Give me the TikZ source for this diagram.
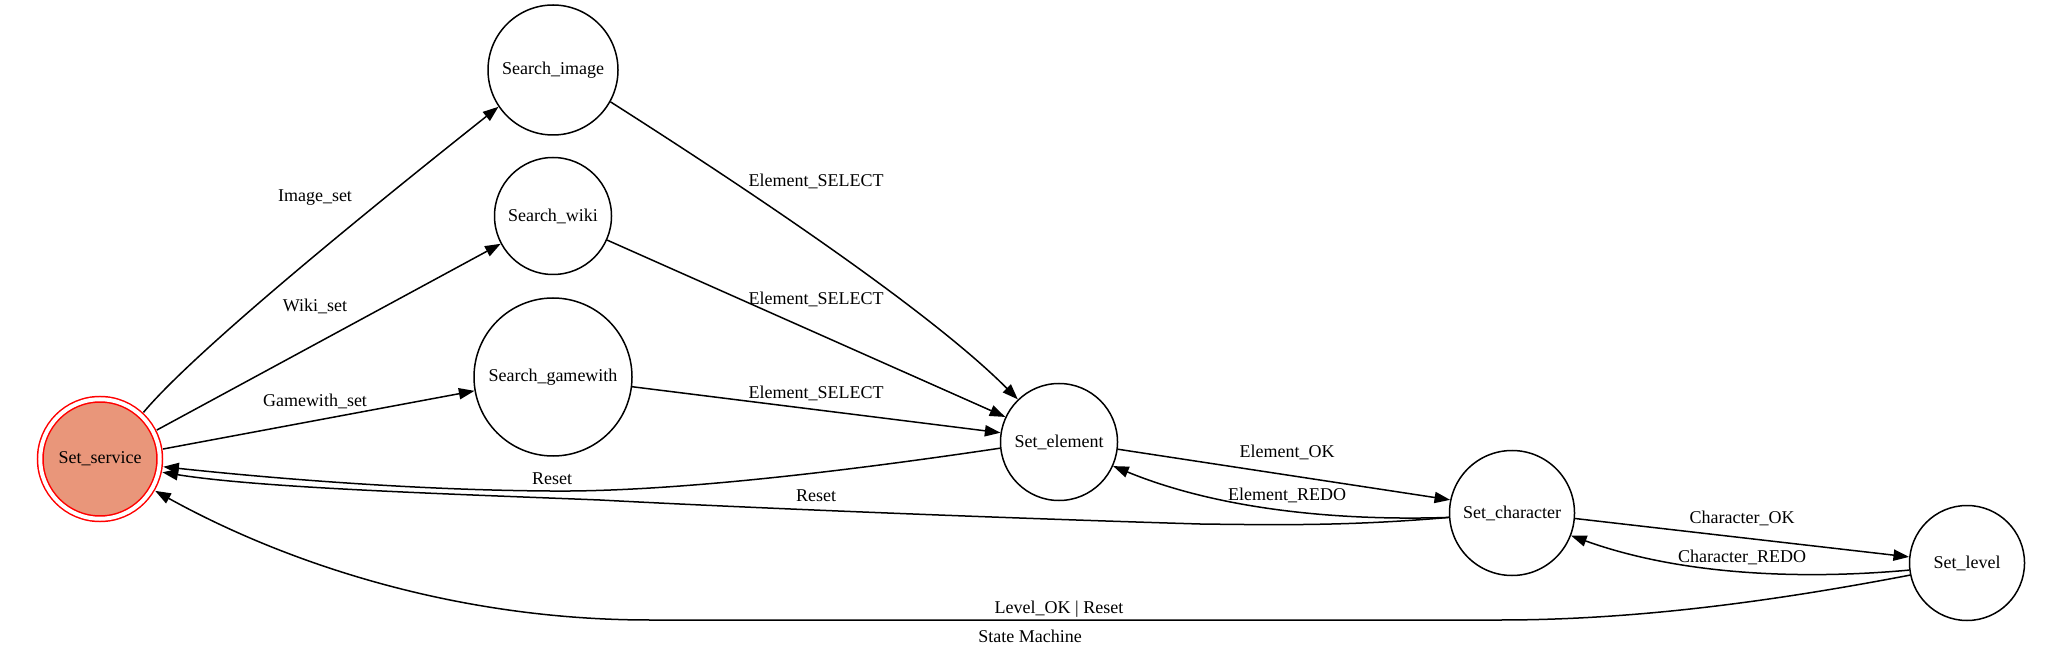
\documentclass[tikz,border=0pt]{standalone}
\usepackage{fontspec}
\setmainfont{Liberation Serif}
\usetikzlibrary{arrows.meta}
\definecolor{salmonfill}{HTML}{E9967A}
\begin{document}
\begin{tikzpicture}[x=0.5pt,y=-0.5pt,
  state/.style={circle,draw,line width=0.75pt,inner sep=0pt,font=\fontsize{9}{11}\selectfont},
  lbl/.style={inner sep=0pt,font=\fontsize{9}{11}\selectfont},
  edge/.style={line width=0.75pt,-{Triangle[length=7.8pt,width=5.6pt]}}]
\useasboundingbox (0,0) rectangle (2061,657);
% states
\node[state,minimum size=59.75pt,draw=red,double=white,double distance=2pt,fill=salmonfill,outer sep=2pt] (ss) at (100,459) {Set\_service};
\node[state,minimum size=65pt] (si) at (553,70) {Search\_image};
\node[state,minimum size=58.5pt] (sw) at (553,216) {Search\_wiki};
\node[state,minimum size=79pt] (sg) at (553,377) {Search\_gamewith};
\node[state,minimum size=58.5pt] (se) at (1059,442) {Set\_element};
\node[state,minimum size=62.5pt] (sc) at (1512,513) {Set\_character};
\node[state,minimum size=57.5pt] (sl) at (1967,563) {Set\_level};
% edges
\draw[edge] (ss.47.6) .. controls (200,345) and (400,185) .. (si.214.6);
\draw[edge] (ss.27.8) -- (sw.208.5);
\draw[edge] (ss.9.7) -- (sg.190.9);
\draw[edge] (si.-29.8) .. controls (730,178) and (926,307) .. (se.134);
\draw[edge] (sw.-24.2) -- (se.155.1);
\draw[edge] (sg.-7.8) -- (se.171.5);
\draw[edge] (se.186) .. controls (800,478) and (650,492) .. (550,491) .. controls (400,490) and (250,476) .. (ss.-7);
\draw[edge] (se.-7) -- (sc.168.7);
\draw[edge] (sc.184.3) .. controls (1340,521) and (1220,510) .. (se.-24.9);
\draw[edge] (sc.184.3) .. controls (1350,526) and (1280,525) .. (1200,524) .. controls (1000,518) and (750,508) .. (600,500) .. controls (450,494) and (260,488) .. (ss.-12.8);
\draw[edge] (sc.-5.5) -- (sl.174);
\draw[edge] (sl.187.7) .. controls (1800,580) and (1680,575) .. (sc.-21.6);
\draw[edge] (sl.192.2) .. controls (1780,600) and (1640,620) .. (1500,620) -- (650,620) .. controls (450,620) and (280,560) .. (ss.-30.7);
% labels
\node[lbl] (l1) at (315,198) {Image\_set};
\node[lbl] (l2) at (315,306) {Wiki\_set};
\node[lbl] (l3) at (315,401) {Gamewith\_set};
\node[lbl] (l4) at (816,181) {Element\_SELECT};
\node[lbl] (l5) at (816,299) {Element\_SELECT};
\node[lbl] (l6) at (816,393) {Element\_SELECT};
\node[lbl] (l7) at (552,479) {Reset};
\node[lbl] (l8) at (816,496) {Reset};
\node[lbl] (l9) at (1287,452) {Element\_OK};
\node[lbl] (l10) at (1287,495) {Element\_REDO};
\node[lbl] (l11) at (1742,518) {Character\_OK};
\node[lbl] (l12) at (1742,557) {Character\_REDO};
\node[lbl] (l13) at (1059,609) {Level\_OK | Reset};
\node[lbl] (title) at (1030,636) {State Machine};
\end{tikzpicture}
\end{document}
